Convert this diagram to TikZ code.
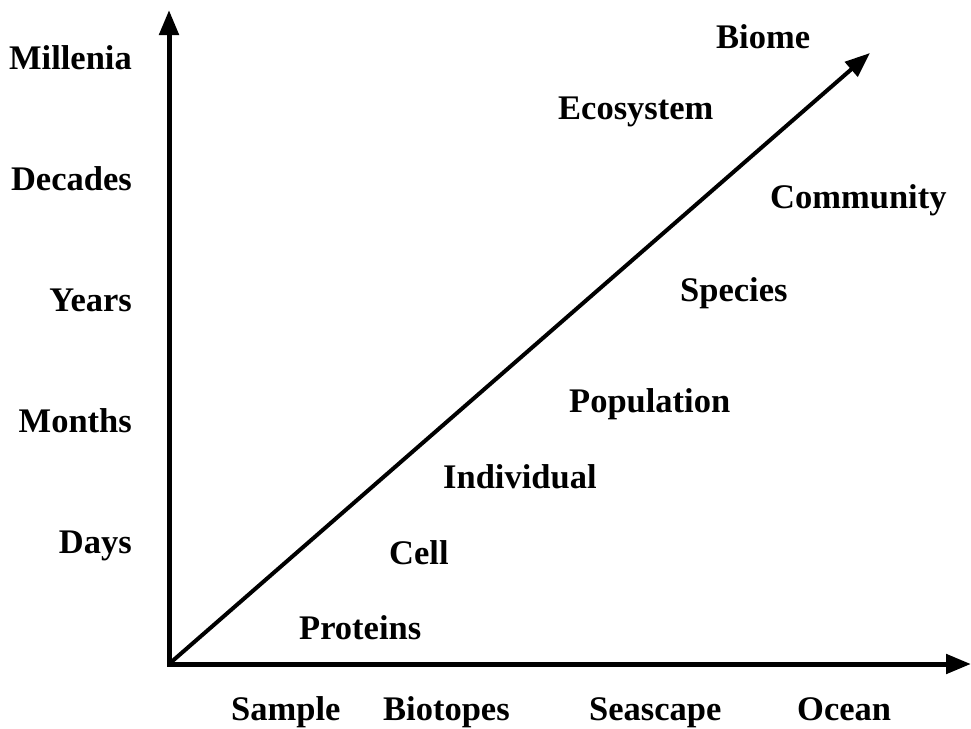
\documentclass[tikz,border=0pt]{standalone}
\usepackage{fontspec}
\setmainfont{Liberation Serif}
\usetikzlibrary{arrows.meta}
\begin{document}
\begin{tikzpicture}[x=1pt,y=-1pt,
  lbl/.style={inner sep=0pt, font=\fontsize{34.5}{41}\selectfont\bfseries},
  axisline/.style={line width=5pt, line join=miter},
  tip/.style={-{Triangle[length=25pt,width=19pt]}}]
\useasboundingbox (0,0) rectangle (971,728);
\coordinate (O) at (169,664);
\coordinate (ytip) at (169,10);
\coordinate (xtip) at (971,664);
\coordinate (dtip) at (870,53);
\draw[axisline,{Triangle[length=25pt,width=19pt]}-{Triangle[length=25pt,width=19pt]}] (ytip) -- (O) -- (xtip);
\draw[line width=4pt,tip] (O) -- (dtip);
% left labels
\node[lbl,anchor=base east] (mil) at (132,69) {Millenia};
\node[lbl,anchor=base east] (dec) at (132,190) {Decades};
\node[lbl,anchor=base east] (yrs) at (132,311) {Years};
\node[lbl,anchor=base east] (mon) at (132,432) {Months};
\node[lbl,anchor=base east] (day) at (132,553) {Days};
% bottom labels
\node[lbl,anchor=base west] (smp) at (231,720) {Sample};
\node[lbl,anchor=base west] (bio) at (383,720) {Biotopes};
\node[lbl,anchor=base west] (sea) at (589,720) {Seascape};
\node[lbl,anchor=base west] (oce) at (797,720) {Ocean};
% inner labels
\node[lbl,anchor=base west] (biome) at (716,48) {Biome};
\node[lbl,anchor=base west] (eco) at (558,119) {Ecosystem};
\node[lbl,anchor=base west] (com) at (770,208) {Community};
\node[lbl,anchor=base west] (spe) at (680,301) {Species};
\node[lbl,anchor=base west] (pop) at (569,412) {Population};
\node[lbl,anchor=base west] (ind) at (443,488) {Individual};
\node[lbl,anchor=base west] (cell) at (389,564) {Cell};
\node[lbl,anchor=base west] (pro) at (299,639) {Proteins};
\end{tikzpicture}
\end{document}
